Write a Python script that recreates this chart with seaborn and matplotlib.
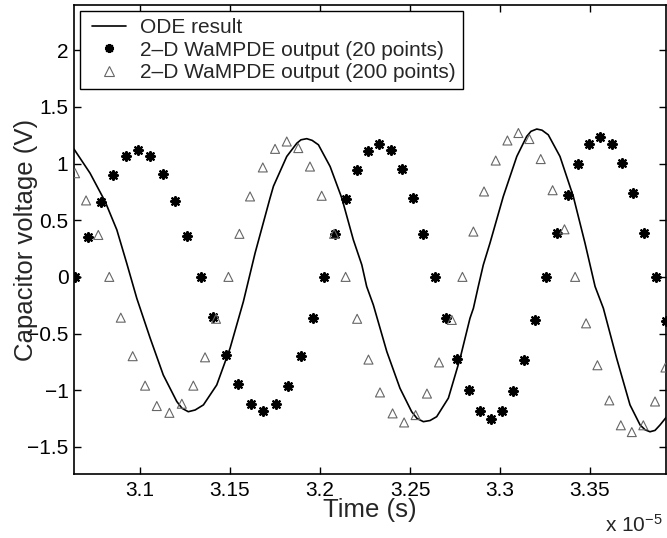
import matplotlib
matplotlib.use("Agg")
import matplotlib.pyplot as plt
import seaborn as sns
from matplotlib.lines import Line2D
from matplotlib.legend_handler import HandlerLine2D

# ---- data (time in units of 1e-5 s, voltage in V) ----
ode_t = [3.0633, 3.0722, 3.0806, 3.0871, 3.0926, 3.0982, 3.1056, 3.1129, 3.1204,
         3.1233, 3.1268, 3.1306, 3.1352, 3.1426, 3.1500, 3.1574, 3.1639, 3.1722,
         3.1741, 3.1815, 3.1871, 3.1894, 3.1926, 3.1956, 3.1991, 3.2056, 3.2121,
         3.2185, 3.2232, 3.2259, 3.2296, 3.2371, 3.2444, 3.2509, 3.2539, 3.2574,
         3.2611, 3.2648, 3.2713, 3.2778, 3.2833, 3.2852, 3.2879, 3.2907, 3.2944,
         3.3018, 3.3093, 3.3148, 3.3172, 3.3204, 3.3233, 3.3268, 3.3333, 3.3407,
         3.3472, 3.3528, 3.3574, 3.3648, 3.3722, 3.3778, 3.3806, 3.3833, 3.3861,
         3.3889, 3.3926]
ode_v = [1.128, 0.916, 0.665, 0.415, 0.12, -0.19, -0.54, -0.866, -1.10,
         -1.16, -1.19, -1.175, -1.13, -0.954, -0.63, -0.218, 0.21, 0.695,
         0.80, 1.063, 1.18, 1.21, 1.22, 1.205, 1.166, 0.974, 0.695,
         0.327, 0.106, -0.085, -0.247, -0.66, -0.983, -1.19, -1.25, -1.278,
         -1.268, -1.234, -1.07, -0.72, -0.365, -0.277, -0.085, 0.106, 0.298,
         0.71, 1.063, 1.24, 1.285, 1.305, 1.295, 1.254, 1.063, 0.71,
         0.298, -0.085, -0.277, -0.72, -1.13, -1.307, -1.35, -1.367, -1.355,
         -1.307, -1.234]

pts20_t = [3.0639, 3.0713, 3.0782, 3.0848, 3.0921, 3.0991, 3.1056, 3.1126, 3.1196,
           3.1263, 3.1336, 3.1407, 3.1476, 3.1546, 3.1615, 3.1683, 3.1754, 3.1824,
           3.1893, 3.1959, 3.2024, 3.2083, 3.2144, 3.2207, 3.2268, 3.2329, 3.2393,
           3.2454, 3.2515, 3.2574, 3.2639, 3.2700, 3.2763, 3.2825, 3.2889, 3.2950,
           3.3013, 3.3074, 3.3133, 3.3196, 3.3256, 3.3315, 3.3379, 3.3435, 3.3494,
           3.3556, 3.3621, 3.3679, 3.3741, 3.3802, 3.3865, 3.3922]
pts20_v = [0.0, 0.356, 0.66, 0.90, 1.063, 1.116, 1.063, 0.91, 0.67,
           0.36, 0.0, -0.35, -0.69, -0.948, -1.124, -1.18, -1.12, -0.96,
           -0.695, -0.36, 0.0, 0.377, 0.69, 0.945, 1.107, 1.172, 1.116,
           0.954, 0.70, 0.377, 0.0, -0.365, -0.725, -1.0, -1.18, -1.255,
           -1.184, -1.007, -0.733, -0.38, 0.0, 0.39, 0.724, 0.996, 1.172,
           1.234, 1.175, 1.004, 0.74, 0.39, 0.0, -0.39]

pts200_t = [3.0639, 3.0700, 3.0768, 3.0829, 3.0893, 3.0959, 3.1028, 3.1093, 3.1163,
            3.1232, 3.1296, 3.1361, 3.1422, 3.1491, 3.1552, 3.1611, 3.1682, 3.1750,
            3.1815, 3.1879, 3.1944, 3.2009, 3.2078, 3.2142, 3.2206, 3.2269, 3.2333,
            3.2403, 3.2467, 3.2531, 3.2594, 3.2661, 3.2732, 3.2791, 3.2852, 3.2911,
            3.2976, 3.3041, 3.3102, 3.3163, 3.3226, 3.3292, 3.3358, 3.3417, 3.3478,
            3.3541, 3.3607, 3.3671, 3.3732, 3.3796, 3.3861, 3.3919]
pts200_v = [0.915, 0.675, 0.37, 0.0, -0.36, -0.70, -0.96, -1.14, -1.20,
            -1.12, -0.96, -0.71, -0.37, 0.0, 0.38, 0.71, 0.966, 1.13,
            1.195, 1.137, 0.974, 0.716, 0.38, 0.0, -0.37, -0.73, -1.02,
            -1.205, -1.285, -1.22, -1.03, -0.755, -0.38, 0.0, 0.40, 0.754,
            1.027, 1.204, 1.27, 1.217, 1.04, 0.765, 0.42, 0.0, -0.41,
            -0.78, -1.09, -1.31, -1.37, -1.31, -1.10, -0.80]

series_labels = ["ODE result",
                 "2\u2013D WaMPDE output (20 points)",
                 "2\u2013D WaMPDE output (200 points)"]
x_ticks = [3.1, 3.15, 3.2, 3.25, 3.3, 3.35]
x_tick_labels = ["3.1", "3.15", "3.2", "3.25", "3.3", "3.35"]
y_ticks = [-1.5, -1.0, -0.5, 0.0, 0.5, 1.0, 1.5, 2.0]
y_tick_labels = ["\u22121.5", "\u22121", "\u22120.5", "0", "0.5", "1", "1.5", "2"]
x_label = "Time (s)"
y_label = "Capacitor voltage (V)"
x_multiplier = "x 10$^{-5}$"

# ---- style ----
sns.set_style("ticks")
plt.rcParams["font.family"] = ["Liberation Sans", "DejaVu Sans"]
plt.rcParams["mathtext.default"] = "regular"

W, H = 667, 538
fig = plt.figure(figsize=(W / 100, H / 100), dpi=100)
ax = fig.add_axes([74 / W, (H - 474) / H, 592 / W, 469 / H])

star = (8, 2, 0)
sns.lineplot(x=ode_t, y=ode_v, ax=ax, color="k", linewidth=1.2,
             sort=False, estimator=None, legend=False)
sns.scatterplot(x=pts20_t, y=pts20_v, ax=ax, marker=star, s=40,
                color="k", linewidth=1.6, legend=False, zorder=3)
sns.scatterplot(x=pts200_t, y=pts200_v, ax=ax, marker="^", s=42,
                facecolor="none", edgecolor="0.4", linewidth=0.8,
                legend=False, zorder=3)

ax.set_xlim(3.0633, 3.3922)
ax.set_ylim(-1.74, 2.40)
ax.set_xticks(x_ticks)
ax.set_xticklabels(x_tick_labels)
ax.set_yticks(y_ticks)
ax.set_yticklabels(y_tick_labels)
ax.tick_params(axis="both", direction="in", length=5, width=1.0,
               top=True, right=True, labelsize=15, colors="k")
ax.tick_params(axis="x", pad=5)
ax.tick_params(axis="y", pad=4)
for sp in ax.spines.values():
    sp.set_visible(True)
    sp.set_color("k")
    sp.set_linewidth(1.2)

ax.set_xlabel(x_label, fontsize=18.5)
ax.set_ylabel(y_label, fontsize=18.5)
ax.xaxis.set_label_coords(0.5, (474 - 498) / 469)
ax.yaxis.set_label_coords((38 - 74) / 592, 0.5)

fig.text(605 / W, (H - 532) / H, x_multiplier, fontsize=15,
         ha="left", va="baseline")

handles = [
    Line2D([], [], color="k", linewidth=1.2),
    Line2D([], [], linestyle="", marker=star, color="k", markersize=6.5,
           markeredgewidth=1.6),
    Line2D([], [], linestyle="", marker="^", markerfacecolor="none",
           markeredgecolor="0.4", markersize=6.5, markeredgewidth=0.8),
]
leg = ax.legend(handles, series_labels, loc="upper left",
                bbox_to_anchor=((80 - 74) / 592, (474 - 11) / 469),
                borderaxespad=0, fontsize=15, frameon=True, fancybox=False,
                edgecolor="k", framealpha=1, borderpad=0.34,
                labelspacing=0.17, handlelength=1.86, handletextpad=0.68,
                handler_map={h: HandlerLine2D(xpad=0.24) for h in handles})
leg.get_frame().set_linewidth(1.0)

fig.savefig("out.png", dpi=100, facecolor="white")
